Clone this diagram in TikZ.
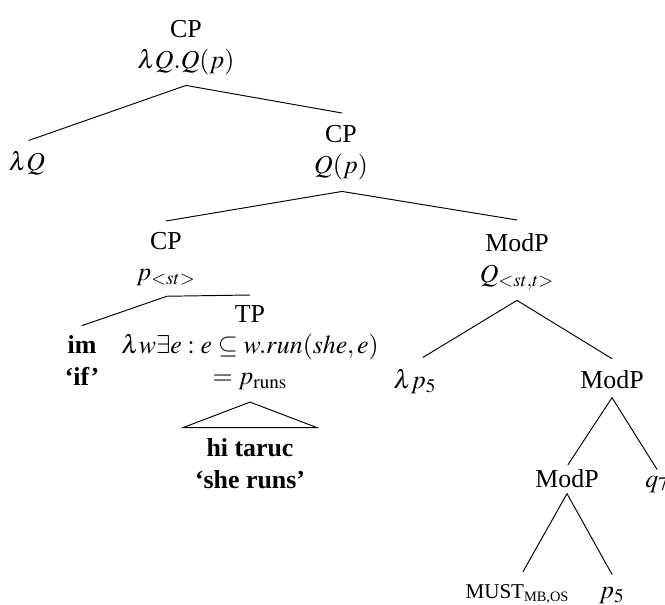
\documentclass[tikz,border=0pt]{standalone}
\usepackage{mathptmx}
\usepackage[no-math]{fontspec}
\setmainfont{Liberation Serif}
\usetikzlibrary{calc}
\tikzset{
  x=0.5217pt, y=-0.5217pt,
  tn/.style={align=center, inner sep=0pt, font=\fontsize{13.5}{16.2}\selectfont},
  edge/.style={line width=0.5pt, line cap=round},
}
% modal operator with its flavour subscript, set in small capitals
\newcommand{\modop}[2]{{\fontsize{11}{13}\selectfont #1}\raisebox{-2pt}{\fontsize{7.5}{9}\selectfont #2}}
\begin{document}
\begin{tikzpicture}
\useasboundingbox (0,0) rectangle (665,604);

% tree nodes
\node[tn, anchor=north] (cp1) at (186,20) {CP\\$\lambda Q.Q(p)$};
\node[tn, anchor=base] (lq) at (27,170) {$\lambda Q$};
\node[tn, anchor=north] (cp2) at (341,125) {CP\\$Q(p)$};
\node[tn, anchor=north] (cp3) at (166,232) {CP\\$p_{<st>}$};
\node[tn, anchor=north] (modp1) at (517,233) {ModP\\$Q_{<st,t>}$};
\node[tn, anchor=base] (im) at (82,385) {\textbf{im}\\\textbf{‘if’}};
\node[tn, anchor=north] (tp) at (250,305) {TP\\$\lambda w\exists e: e\subseteq w.run(she,e)$\\$=p_{\mathrm{runs}}$};
\node[tn, anchor=base] (hi) at (250,488) {\textbf{hi taruc}\\\textbf{‘she runs’}};
\node[tn, anchor=base] (lp5) at (415,388) {$\lambda p_5$};
\node[tn, anchor=base] (modp2) at (612,388) {ModP};
\node[tn, anchor=base] (modp3) at (567,487) {ModP};
\node[tn, anchor=base west] (q7) at (645,487) {$q_7$};
\node[tn, anchor=base] (must) at (517,598) {\modop{MUST}{MB,OS}};
\node[tn, anchor=base] (p5) at (612,598) {$p_5$};

% branches
\draw[edge] ($(cp1.south)+(0,10)$) -- ($(lq.north)+(2,-10)$);
\draw[edge] ($(cp1.south)+(0,10)$) -- ($(cp2.north)+(1,-12)$);
\draw[edge] ($(cp2.south)+(1,11)$) -- ($(cp3.north)+(0,-11)$);
\draw[edge] ($(cp2.south)+(1,11)$) -- ($(modp1.north)+(0,-13)$);
\draw[edge] ($(cp3.south)+(1,10)$) -- ($(im.north)+(0,-10)$);
\draw[edge] ($(cp3.south)+(1,10)$) -- ($(tp.north)+(0,-10)$);
\draw[edge] ($(modp1.south)+(0,10)$) -- ($(lp5.north)+(8,-11)$);
\draw[edge] ($(modp1.south)+(0,10)$) -- ($(modp2.north)+(0,-11)$);
\draw[edge] ($(modp2.south)+(0,9)$) -- ($(modp3.north)+(1,-4)$);
\draw[edge] ($(modp2.south)+(0,9)$) -- ($(q7.north west)+(12,-6)$);
\draw[edge] ($(modp3.south)+(0,6)$) -- ($(must.north)+(6,-12)$);
\draw[edge] ($(modp3.south)+(0,6)$) -- ($(p5.north)+(0,-12)$);

% roof over the unanalysed clause
\draw[edge] ($(tp.south)+(0,12)$) -- ($(hi.north)+(67,-11)$) -- ($(hi.north)+(-67,-11)$) -- cycle;
\end{tikzpicture}
\end{document}
